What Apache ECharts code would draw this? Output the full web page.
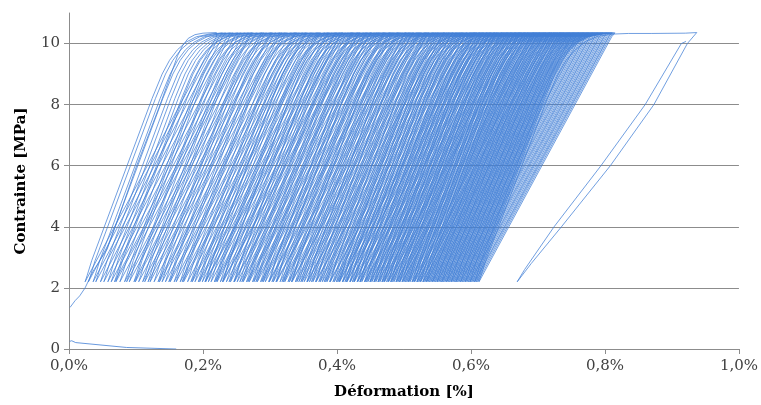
<!DOCTYPE html>
<html><head><meta charset="utf-8">
<script src="https://cdn.jsdelivr.net/npm/echarts@6/dist/echarts.min.js"></script>
<style>html,body{margin:0;padding:0;background:#fff}#c{width:761px;height:405px}</style>
</head><body><div id="c"></div>
<script>
// ---- data (strain in %, stress in MPa) ----
const xTicks = [0, 0.2, 0.4, 0.6, 0.8, 1.0];
const yTicks = [0, 2, 4, 6, 8, 10];
const gridValues = [2, 4, 6, 8, 10];

// short initial segment near zero stress
const initialSegment = [[0.001,0.25],[0.004,0.27],[0.01,0.21],[0.086,0.05],[0.16,0.0]];
// first loading branch
const firstLoading = [[0.0015,1.36],[0.009,1.58],[0.016,1.74],[0.024,2.0],[0.036,2.55],[0.057,3.27],[0.069,4.0],[0.101,6.0],[0.136,8.0],[0.162,9.6],[0.17,9.95],[0.178,10.17],[0.188,10.29],[0.2,10.34],[0.22,10.36]];
// strain at the bottom (2.2 MPa) of each cycle
const cycleBottoms = [
0.020,0.024,0.029,0.036,0.040,0.047,0.052,0.058,0.063,
0.068,0.070,0.076,0.083,0.086,0.090,0.097,0.099,0.104,0.110,0.113,0.118,0.121,0.127,0.133,0.135,0.139,0.144,0.149,0.151,0.157,0.160,0.166,0.169,0.171,0.177,0.182,0.184,0.188,0.193,0.195,0.199,
0.203,0.204,0.208,0.212,0.217,0.219,0.221,0.226,0.229,0.230,0.235,0.239,0.241,0.246,0.247,0.251,0.255,0.258,0.260,0.265,0.267,0.269,0.274,0.276,0.279,0.281,0.286,0.288,0.290,0.293,0.298,0.299,0.303,0.305,0.309,0.310,0.315,0.318,0.320,0.322,0.327,0.329,0.332,0.333,0.338,0.340,0.343,0.346,0.348,0.351,0.355,0.356,0.359,0.362,0.364,0.368,0.369,0.373,0.375,0.378,0.381,0.383,0.385,0.389,0.390,0.394,0.396,0.399,
0.401,0.403,0.404,0.408,0.409,0.412,0.414,0.415,0.419,0.420,0.423,0.425,0.426,0.430,0.431,0.434,0.435,0.437,0.441,0.442,0.444,0.446,0.449,0.450,0.452,0.455,0.456,0.458,0.461,0.462,0.464,0.467,0.468,0.470,0.471,0.474,0.476,0.477,0.480,0.481,0.483,0.485,0.488,0.489,0.491,0.493,0.494,0.497,0.498,0.500,0.502,0.504,0.506,0.507,0.509,0.512,0.513,0.515,0.516,0.519,0.520,0.522,0.524,0.525,0.528,0.529,0.531,0.533,0.534,0.536,0.538,0.540,0.542,0.543,0.545,0.547,0.549,0.550,0.552,0.554,0.556,0.557,0.559,0.561,0.563,0.564,0.566,0.568,0.570,0.571,0.573,0.575,0.577,0.578,0.580,0.582,0.584,0.585,0.587,0.589,0.591,0.592,0.594,0.596,0.598,0.599,0.601,0.603,0.605,0.606,0.608,0.610
];
// loading branch shape, strain relative to the cycle bottom
const loadShape = [[0,2.2],[0.003,2.4],[0.01,2.9],[0.1,8.2],[0.115,9.0],[0.126,9.45],[0.138,9.8],[0.151,10.05],[0.166,10.22],[0.185,10.31],[0.205,10.35]];
// unloading: rounded start at the top, then straight down to the next bottom
const unloadShape = [[0.2,10.22]];
// last wide cycle, creep at the top and the final cycle
const finalPath = [[0.612,2.2],[0.615,2.4],[0.622,2.9],[0.714,8.2],[0.73,9.0],[0.742,9.45],[0.756,9.8],[0.772,10.08],[0.79,10.24],[0.812,10.31],[0.835,10.33],[0.87,10.33],[0.92,10.34],[0.937,10.36],
[0.923,10.0],[0.873,8.0],[0.808,6.0],[0.735,4.0],[0.69,2.8],[0.669,2.2],
[0.68,2.6],[0.724,4.0],[0.794,6.0],[0.86,8.0],[0.914,10.0],[0.921,10.07]];

// ---- build the path ----
const path = firstLoading.slice();
cycleBottoms.forEach((b, i) => {
  if (i > 0) loadShape.forEach(p => path.push([b + p[0], p[1]]));
  unloadShape.forEach(p => path.push([b + p[0], p[1]]));
});
finalPath.forEach(p => path.push(p));

const fmtX = v => v.toFixed(1).replace('.', ',') + '%';
const font = 'DejaVu Serif';
const lineColor = '#417fd6';
const gridColor = '#8c8c8c';

const chart = echarts.init(document.getElementById('c'));
chart.setOption({
  animation: false,
  grid: {left: 69, right: 21, top: 13, bottom: 55},
  xAxis: {
    type: 'value', min: 0, max: 1.0, interval: 0.2,
    name: 'Déformation [%]', nameLocation: 'middle', nameGap: 36,
    nameTextStyle: {fontFamily: font, fontWeight: 'bold', fontSize: 15, color: '#000'},
    axisLine: {show: true, lineStyle: {color: gridColor, width: 1}},
    axisTick: {show: true, length: 5, lineStyle: {color: gridColor}},
    axisLabel: {formatter: fmtX, fontFamily: font, fontSize: 15, color: '#404040', margin: 10},
    splitLine: {show: false}
  },
  yAxis: {
    type: 'value', min: 0, max: 11,
    name: 'Contrainte [MPa]', nameLocation: 'middle', nameGap: 40, nameRotate: 90,
    nameTextStyle: {fontFamily: font, fontWeight: 'bold', fontSize: 15, color: '#000'},
    axisLine: {show: true, lineStyle: {color: gridColor, width: 1}},
    axisTick: {show: true, length: 5, customValues: yTicks, lineStyle: {color: gridColor}},
    axisLabel: {customValues: yTicks, fontFamily: font, fontSize: 15, color: '#404040', margin: 9},
    splitLine: {show: false}
  },
  series: [
    {
      type: 'line', data: [], z: 0, silent: true,
      markLine: {
        z: 0, silent: true, symbol: 'none', label: {show: false}, animation: false,
        emphasis: {disabled: true},
        lineStyle: {color: gridColor, type: 'solid', width: 1, opacity: 1},
        data: gridValues.map(v => ({yAxis: v, lineStyle: {color: gridColor}}))
      }
    },
    {
      type: 'line', data: initialSegment, showSymbol: false, z: 3,
      lineStyle: {color: lineColor, width: 0.8}
    },
    {
      type: 'line', data: path, showSymbol: false, z: 3, clip: true,
      lineStyle: {color: lineColor, width: 0.75}
    }
  ]
});
</script>
</body></html>
